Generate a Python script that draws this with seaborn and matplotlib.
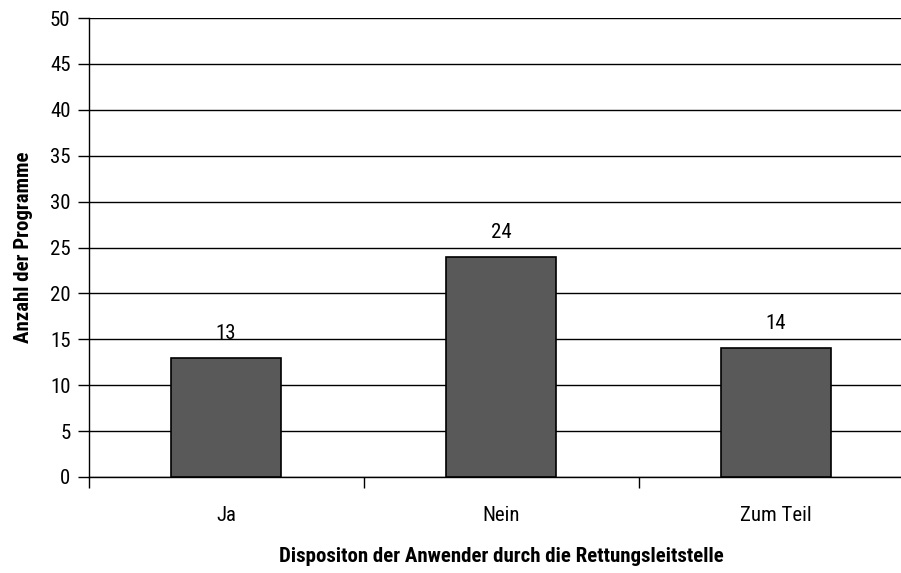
import matplotlib
matplotlib.use('Agg')
import matplotlib.pyplot as plt
from matplotlib import font_manager
import seaborn as sns
import pandas as pd
import numpy as np

categories = ['Ja', 'Nein', 'Zum Teil']
counts = [13, 24, 14]

df = pd.DataFrame({'Kategorie': categories, 'Anzahl': counts})

sns.set_style('white')

# narrow font if there is one
installed = {f.name for f in font_manager.fontManager.ttflist}
narrow = [n for n in ['Liberation Sans Narrow', 'Roboto Condensed', 'Open Sans Condensed',
                      'DejaVu Sans Condensed'] if n in installed]
plt.rcParams['font.family'] = narrow + ['DejaVu Sans']
plt.rcParams['font.stretch'] = 'condensed'
plt.rcParams['text.color'] = 'black'

fs = 15

fig = plt.figure(figsize=(9.01, 5.73), dpi=100)
# plot area runs past the right border, as in the reference
ax = fig.add_axes([88.5 / 901, 96 / 573, 825 / 901, 459 / 573])

sns.barplot(data=df, x='Kategorie', y='Anzahl', color='#595959', width=0.4,
            edgecolor='black', linewidth=1.2, saturation=1, ax=ax, zorder=3)

ax.set_ylim(0, 50)
ax.set_xlim(-0.5, 2.5)
ax.set_yticks(np.arange(0, 51, 5))
ax.yaxis.grid(True, color='black', linewidth=1)
ax.set_axisbelow(True)

# x ticks between categories, labels centred under bars
ax.set_xticks([-0.5, 0.5, 1.5, 2.5])
ax.set_xticklabels([])
ax.set_xticks(range(len(categories)), minor=True)
ax.set_xticklabels(categories, minor=True)
ax.tick_params(axis='x', which='major', bottom=True, direction='out', length=8, width=1, color='black')
ax.tick_params(axis='x', which='minor', bottom=False, length=0, pad=21, labelsize=fs, labelcolor='black')
ax.tick_params(axis='y', left=True, direction='out', length=8, width=1, color='black',
               labelsize=fs, labelcolor='black', pad=5)

for s in ['top', 'right']:
    ax.spines[s].set_visible(False)
for s in ['left', 'bottom']:
    ax.spines[s].set_color('black')
    ax.spines[s].set_linewidth(1)

for i, v in enumerate(counts):
    ax.annotate(str(v), (i, v), xytext=(0, 15), textcoords='offset pixels',
                ha='center', va='bottom', fontsize=fs, color='black')

ax.set_xlabel('Dispositon der Anwender durch die Rettungsleitstelle',
              fontsize=fs, fontweight='bold', labelpad=16, color='black')
ax.set_ylabel('Anzahl der Programme', fontsize=fs, fontweight='bold', labelpad=12, color='black')

fig.savefig('out.png', dpi=100)
